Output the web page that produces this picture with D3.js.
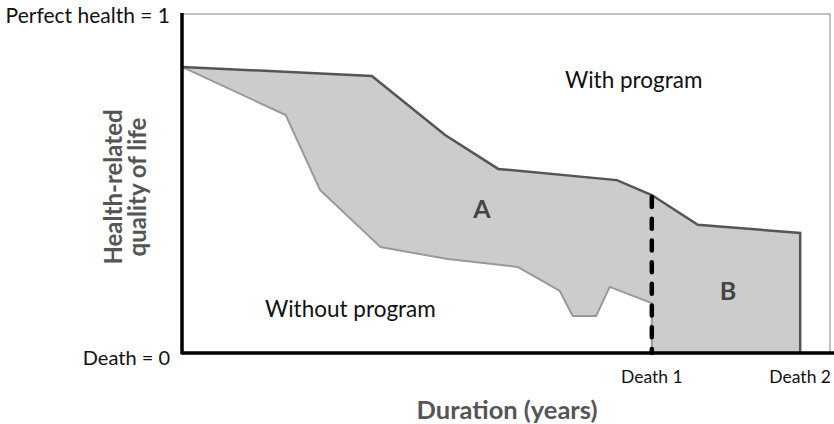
<!DOCTYPE html>
<html>
<head>
<meta charset="utf-8">
<script src="https://cdn.jsdelivr.net/npm/d3@7"></script>
<style>
  body { margin: 0; background: #fff; }
  text { font-family: Lato, "Open Sans", sans-serif; }
</style>
</head>
<body>
<div id="chart"></div>
<script>
// With-program curve (duration units 0-100, quality 0-1)
const withYears   = [0, 29.3, 40.6, 48.8, 67.1, 72.5, 79.6, 95.4];
const withQuality = [0.844, 0.817, 0.643, 0.543, 0.510, 0.466, 0.378, 0.354];

// Without-program curve
const withoutYears   = [0, 16.0, 21.3, 30.6, 41.0, 51.8, 58.3, 60.3, 63.9, 66.0, 72.5];
const withoutQuality = [0.844, 0.702, 0.481, 0.313, 0.277, 0.254, 0.183, 0.109, 0.109, 0.195, 0.147];

const deathYears  = [72.5, 95.4];
const deathLabels = ['Death 1', 'Death 2'];
const yTickLabels = ['Death = 0', 'Perfect health = 1'];

const W = 834, H = 424;
const margin = { top: 14, right: 4, bottom: 71, left: 182 };

const x = d3.scaleLinear().domain([0, 100]).range([margin.left, W - margin.right]);
const y = d3.scaleLinear().domain([0, 1]).range([H - margin.bottom, margin.top]);

const svg = d3.select('#chart').append('svg')
    .attr('width', W).attr('height', H);

const upper = withYears.map((t, i) => [t, withQuality[i]]);
const lower = withoutYears.map((t, i) => [t, withoutQuality[i]]);
const death1 = deathYears[0], death2 = deathYears[1];

const line = d3.line().x(d => x(d[0])).y(d => y(d[1]));

// Region A: between the two curves up to death 1
const upperA = upper.filter(d => d[0] <= death1);
svg.append('path')
    .attr('d', line(upperA.concat(lower.slice().reverse())) + 'Z')
    .attr('fill', '#cccccc');

// Region B: under with-program curve after death 1
const upperB = upper.filter(d => d[0] >= death1);
svg.append('path')
    .attr('d', line([[death1, 0]].concat(upperB, [[death2, 0]])) + 'Z')
    .attr('fill', '#cccccc');

// frame (top and right)
svg.append('path')
    .attr('d', `M${x(0)},${y(1)}H${x(100)}V${y(0)}`)
    .attr('fill', 'none').attr('stroke', '#aaaaaa').attr('stroke-width', 1.5);

// without-program line
svg.append('path')
    .attr('d', line(lower.concat([[death1, 0]])))
    .attr('fill', 'none').attr('stroke', '#999999').attr('stroke-width', 2)
    .attr('stroke-linejoin', 'round');

// with-program line
svg.append('path')
    .attr('d', line(upper.concat([[death2, 0]])))
    .attr('fill', 'none').attr('stroke', '#555555').attr('stroke-width', 2.5);

// dashed death-1 line
svg.append('line')
    .attr('x1', x(death1)).attr('x2', x(death1))
    .attr('y1', y(withQuality[withYears.indexOf(death1)]) + 2).attr('y2', y(0))
    .attr('stroke', '#000').attr('stroke-width', 4.5)
    .attr('stroke-dasharray', '10,11.7').attr('stroke-linecap', 'round');

// axes
svg.append('line')
    .attr('x1', x(0)).attr('x2', W).attr('y1', y(0)).attr('y2', y(0))
    .attr('stroke', '#000').attr('stroke-width', 3.5);
svg.append('line')
    .attr('x1', x(0)).attr('x2', x(0)).attr('y1', y(1) - 1).attr('y2', y(0) + 1.5)
    .attr('stroke', '#000').attr('stroke-width', 3.5);

// y tick labels
svg.selectAll('.ytick').data([0, 1]).enter().append('text')
    .attr('x', x(0) - 12).attr('y', d => d === 1 ? 23 : y(0) + 12)
    .attr('text-anchor', 'end')
    .attr('font-size', d => d === 1 ? 21 : 20).attr('fill', '#111')
    .text((d, i) => yTickLabels[i]);

// x tick labels
svg.selectAll('.xtick').data(deathYears).enter().append('text')
    .attr('x', d => x(d)).attr('y', y(0) + 30)
    .attr('text-anchor', 'middle')
    .attr('font-size', 17.5).attr('fill', '#111')
    .text((d, i) => deathLabels[i]);

// axis titles
svg.append('text')
    .attr('x', 507).attr('y', 419)
    .attr('text-anchor', 'middle')
    .attr('font-size', 25.5).attr('font-weight', 700).attr('fill', '#555')
    .text('Duration (years)');

const yt = svg.append('text')
    .attr('transform', `translate(122,187) rotate(-90)`)
    .attr('text-anchor', 'middle')
    .attr('font-size', 24).attr('font-weight', 700).attr('fill', '#555');
yt.append('tspan').attr('x', 0).attr('dy', 0).text('Health-related');
yt.append('tspan').attr('x', 0).attr('dy', 23.5).text('quality of life');

// annotations
svg.append('text').attr('x', 565).attr('y', 88)
    .attr('font-size', 22.5).attr('fill', '#111')
    .text('With program');
svg.append('text').attr('x', 265).attr('y', 317)
    .attr('font-size', 22.5).attr('fill', '#111')
    .text('Without program');
svg.append('text').attr('x', 482).attr('y', 218)
    .attr('text-anchor', 'middle').attr('font-size', 25).attr('font-weight', 700).attr('fill', '#444')
    .text('A');
svg.append('text').attr('x', 728).attr('y', 300)
    .attr('text-anchor', 'middle').attr('font-size', 25).attr('font-weight', 700).attr('fill', '#444')
    .text('B');
</script>
</body>
</html>
